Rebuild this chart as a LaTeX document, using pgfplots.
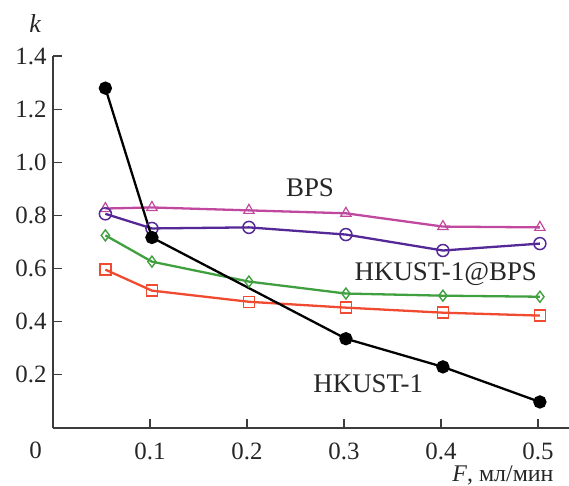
\documentclass[border=0pt]{standalone}
\usepackage{fontspec}
\setmainfont{Liberation Serif}
\newfontfamily\tickfont{Liberation Serif}
\usepackage{pgfplots}
\pgfplotsset{compat=1.18}
\usetikzlibrary{calc}
\definecolor{bpsclr}{RGB}{192,72,158}
\definecolor{purpclr}{RGB}{84,40,150}
\definecolor{grnclr}{RGB}{64,160,64}
\definecolor{redclr}{RGB}{240,74,48}
\definecolor{axclr}{RGB}{60,60,60}

\begin{document}
\begin{tikzpicture}
\begin{axis}[
  scale only axis,
  width=516bp, height=372bp,
  xmin=0, xmax=0.532, ymin=0, ymax=1.4,
  axis x line=bottom, axis y line=left,
  axis line style={-, line width=1.1pt, color=axclr},
  xtick={0.1,0.2,0.3,0.4,0.5},
  xticklabels={0.1,0.2,0.3,0.4,0.5},
  ytick={0.2,0.4,0.6,0.8,1.0,1.2,1.4},
  yticklabels={{\tickfont 0.2},{\tickfont 0.4},{\tickfont 0.6},{\tickfont 0.8},{\tickfont 1.0},{\tickfont 1.2},{\tickfont 1.4}},
  tick align=inside, major tick length=9bp,
  tick style={line width=1.1pt, color=axclr},
  ticklabel style={font=\tickfont\fontsize{25}{28}\selectfont, color=black!85},
  xticklabel style={yshift=-11bp},
  yticklabel style={font=\tickfont\fontsize{25}{28}\selectfont, xshift=-3bp},
  clip=false,
  every axis plot/.append style={line width=2.3pt},
]
\addplot[color=bpsclr, mark=triangle, mark size=6bp, mark options={line width=1.2pt}]
  coordinates {(0.054,0.826) (0.102,0.830) (0.202,0.819) (0.302,0.808) (0.402,0.758) (0.502,0.755)};
\addplot[color=purpclr, mark=o, mark size=6bp, mark options={line width=1.5pt}]
  coordinates {(0.054,0.806) (0.102,0.751) (0.202,0.755) (0.302,0.728) (0.402,0.668) (0.502,0.694)};
\addplot[color=grnclr, mark=diamond, mark size=5.5bp, mark options={line width=1.4pt}]
  coordinates {(0.054,0.725) (0.102,0.626) (0.202,0.551) (0.302,0.506) (0.402,0.498) (0.502,0.494)};
\addplot[color=redclr, mark=square, mark size=5.5bp, mark options={line width=1.4pt}]
  coordinates {(0.054,0.596) (0.102,0.517) (0.202,0.475) (0.302,0.453) (0.402,0.434) (0.502,0.423)};
\addplot[color=black, mark=*, mark size=5.5bp]
  coordinates {(0.054,1.279) (0.102,0.717) (0.302,0.336) (0.402,0.230) (0.502,0.098)};
\coordinate (o) at (axis cs:0,0);
\node[font=\fontsize{27}{30}\selectfont, text=black!85] at (axis cs:0.265,0.906) {BPS};
\node[font=\fontsize{27}{30}\selectfont, text=black!85] at (axis cs:0.405,0.580) {HKUST-1@BPS};
\node[font=\fontsize{27}{30}\selectfont, text=black!85] at (axis cs:0.325,0.166) {HKUST-1};
\end{axis}
\node[font=\fontsize{25}{28}\selectfont, text=black!85] at ($(o)+(-17.5bp,-22.5bp)$) {0};
\node[font=\fontsize{26}{30}\selectfont\itshape, text=black!85] at ($(o)+(-18bp,404bp)$) {k};
\node[font=\fontsize{24}{28}\selectfont, text=black!85, anchor=base east] at ($(o)+(504bp,-53bp)$) {\textit{F}, мл/мин};
\pgfresetboundingbox
\path[use as bounding box] ($(o)+(-53bp,-58bp)$) rectangle ($(o)+(516bp,428bp)$);
\end{tikzpicture}
\end{document}
